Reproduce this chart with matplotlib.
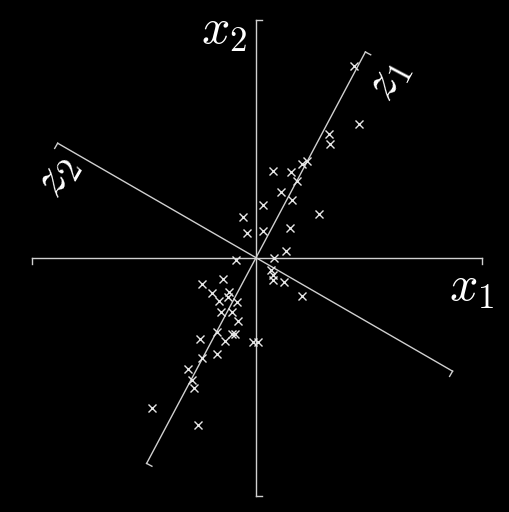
import numpy as np
import matplotlib.pyplot as plt

plt.rcParams['mathtext.fontset'] = 'cm'

# scatter points (x1, x2)
x1_pts = [0.98, 1.03, 0.73, 0.74, 0.46, 0.51, 0.17, 0.35, 0.41, 0.25,
          0.36, 0.07, 0.63, -0.13, -0.09, 0.07, 0.34, 0.30, 0.18, -0.20,
          0.15, 0.17, 0.17, 0.28, 0.46, -0.33, -0.54, -0.44, -0.27, -0.28,
          -0.37, -0.19, -0.35, -0.24, -0.18, -0.39, -0.24, -0.21, -0.56, -0.31,
          -0.03, 0.02, -0.39, -0.54, -0.68, -0.64, -0.62, -1.04, -0.58]
x2_pts = [1.92, 1.34, 1.24, 1.14, 0.94, 0.97, 0.87, 0.86, 0.77, 0.66,
          0.58, 0.53, 0.44, 0.41, 0.25, 0.27, 0.30, 0.07, 0.00, -0.02,
          -0.12, -0.17, -0.22, -0.24, -0.38, -0.21, -0.26, -0.35, -0.34, -0.39,
          -0.43, -0.44, -0.54, -0.54, -0.63, -0.74, -0.76, -0.76, -0.81, -0.83,
          -0.84, -0.84, -0.96, -1.00, -1.11, -1.22, -1.30, -1.50, -1.67]

# axis directions (degrees), half lengths (neg side, pos side)
axis_angles = [0.0, 90.0, 62.0, -30.0]
axis_neg = [2.24, 2.38, 2.33, 2.29]
axis_pos = [2.26, 2.38, 2.33, 2.27]
tick_len = 0.06

fig = plt.figure(figsize=(5.09, 5.12), dpi=100, facecolor='black')
ax = fig.add_axes([0, 0, 1, 1])
ax.set_facecolor('black')
ax.set_xlim(-2.56, 2.53)
ax.set_ylim(-2.543, 2.577)
ax.axis('off')

line_col = '#d0d0d0'
for ang, ln, lp in zip(axis_angles, axis_neg, axis_pos):
    t = np.radians(ang)
    u = np.array([np.cos(t), np.sin(t)])
    n = np.array([np.sin(t), -np.cos(t)])  # clockwise normal
    a = -ln * u
    b = lp * u
    ax.plot([a[0], b[0]], [a[1], b[1]], color=line_col, lw=1.0)
    for e in (a, b):
        ax.plot([e[0], e[0] + tick_len * n[0]], [e[1], e[1] + tick_len * n[1]],
                color=line_col, lw=1.0)

ax.plot(x1_pts, x2_pts, 'x', color='#e6e6e6', ms=6, mew=1.0)

txt = dict(color='white', fontsize=36, ha='center', va='center')
ax.text(2.16, -0.29, r'$x_1$', **txt)
ax.text(-0.32, 2.28, r'$x_2$', **txt)
ax.text(1.30, 1.79, r'$z_1$', rotation=62, **txt)
ax.text(-2.01, 0.82, r'$z_2$', rotation=60, **txt)

fig.savefig('out.png', dpi=100, facecolor='black')
